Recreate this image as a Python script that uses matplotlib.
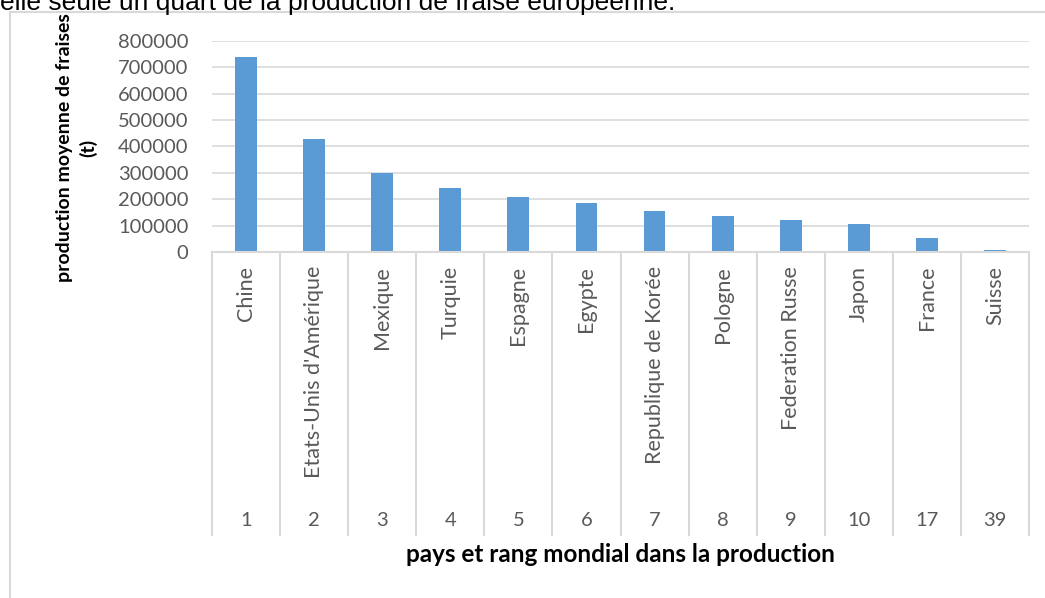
import numpy as np
import matplotlib
matplotlib.use('Agg')
import matplotlib.pyplot as plt
import matplotlib.transforms as mtransforms
from matplotlib.patches import Rectangle

# donnees
PAYS = ['Chine', "Etats-Unis d'Amérique", 'Mexique', 'Turquie', 'Espagne', 'Egypte',
        'Republique de Korée', 'Pologne', 'Federation Russe', 'Japon', 'France', 'Suisse']
RANGS = ['1', '2', '3', '4', '5', '6', '7', '8', '9', '10', '17', '39']
PRODUCTION = [738000, 427000, 300000, 244000, 207000, 185000,
              154000, 136000, 121000, 106000, 52000, 6000]
Y_TICKS = [0, 100000, 200000, 300000, 400000, 500000, 600000, 700000, 800000]

W, H = 1045, 598
GRIS = '#D9D9D9'
TEXTE = '#595959'
BLEU = '#5B9BD5'

plt.rcParams['font.family'] = ['Lato', 'DejaVu Sans']

fig = plt.figure(figsize=(W / 100, H / 100), dpi=100)
fig.patch.set_facecolor('white')

# cadre du graphique (Excel)
fig.patches.append(Rectangle((10 / W, -0.05), 1.1, 1 - 12 / H + 0.05, transform=fig.transFigure,
                             fill=False, edgecolor=GRIS, lw=1.5, zorder=0))

# texte coupe en haut
fig.text(0, 1 - 10 / H, 'elle seule un quart de la production de fraise européenne.',
         family='Liberation Sans', fontsize=19, color='black', va='baseline', ha='left')

ax = fig.add_axes([212 / W, 1 - 252 / H, (1029 - 212) / W, (252 - 40.7) / H])
x = np.arange(len(PAYS))
ax.bar(x, PRODUCTION, width=0.32, color=BLEU, zorder=3)
ax.set_xlim(-0.5, len(PAYS) - 0.5)
ax.set_ylim(0, 800000)
ax.set_yticks(Y_TICKS)
ax.set_yticklabels([str(v) for v in Y_TICKS])
ax.tick_params(axis='y', length=0, pad=17, labelsize=14.5, labelcolor=TEXTE)
ax.set_xticks([])
ax.grid(axis='y', color=GRIS, lw=1.2, zorder=0)
for s in ['top', 'right', 'left']:
    ax.spines[s].set_visible(False)
ax.spines['bottom'].set_color(GRIS)
ax.spines['bottom'].set_linewidth(1.5)
ax.spines['bottom'].set_zorder(4)

# axe des categories a deux niveaux
trans = mtransforms.blended_transform_factory(ax.transData, fig.transFigure)
for xi in np.arange(-0.5, len(PAYS), 1.0):
    ax.plot([xi, xi], [1 - 252 / H, 1 - 535 / H], transform=trans, color=GRIS, lw=1.5, clip_on=False)
for xi, nom, rang in zip(x, PAYS, RANGS):
    ax.text(xi, 1 - 266 / H, nom, transform=trans, rotation=90, ha='center', va='top',
            fontsize=15.5, color=TEXTE)
    ax.text(xi, 1 - 520 / H, rang, transform=trans, ha='center', va='center',
            fontsize=14.5, color=TEXTE)

fig.text(620 / W, 1 - 555 / H, 'pays et rang mondial dans la production', ha='center', va='center',
         fontsize=17.5, fontweight='bold', color='black')
fig.text(77 / W, 1 - 148 / H, 'production moyenne de fraises\n(t)', ha='center', va='center',
         rotation=90, fontsize=14, fontweight='bold', color='black', linespacing=1.4,
         multialignment='center')

fig.savefig('out.png', dpi=100)
